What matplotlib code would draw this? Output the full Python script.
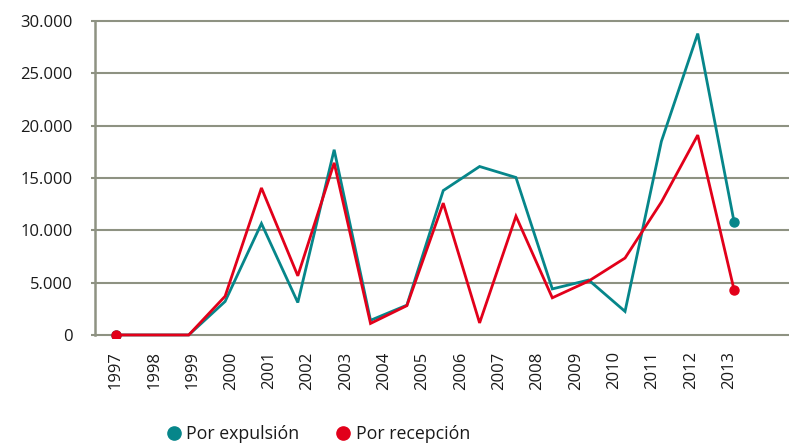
import numpy as np
import matplotlib
matplotlib.use("Agg")
import matplotlib.pyplot as plt
from matplotlib.ticker import FuncFormatter
from matplotlib.lines import Line2D

plt.rcParams['font.family'] = ['Open Sans', 'DejaVu Sans']

# Data (18 plotted vertices)
expulsion = [0, 0, 0, 3200, 10650, 3100, 17700, 1400, 2850, 13800, 16100,
             15050, 4400, 5250, 2250, 18500, 28800, 10800]
recepcion = [0, 0, 0, 3700, 14050, 5650, 16450, 1100, 2800, 12600, 1150,
             11350, 3550, 5150, 7350, 12700, 19100, 4300]
year_labels = [str(y) for y in range(1997, 2014)]
series_names = ["Por expulsión", "Por recepción"]

teal = "#06868a"
red = "#e2001a"
grid_c = "#8e9282"

fig = plt.figure(figsize=(7.89, 4.44), dpi=100)
W, H = 789, 444
left_px, right_px, top_px, bot_px = 95, 789, 17.9, 338.1
ax = fig.add_axes([left_px / W, 1 - bot_px / H, (right_px - left_px) / W, (bot_px - top_px) / H])

x = np.arange(len(expulsion))
ax.plot(x, expulsion, color=teal, lw=2.0, marker='o', ms=6.5, markevery=[0, len(x) - 1],
        solid_joinstyle='miter', zorder=3)
ax.plot(x, recepcion, color=red, lw=2.0, marker='o', ms=6.5, markevery=[0, len(x) - 1],
        solid_joinstyle='miter', zorder=4)

ax.set_xlim(-0.578, 18.51)
ax.set_ylim(-300, 30300)

ax.set_yticks(np.arange(0, 30001, 5000))
ax.yaxis.set_major_formatter(FuncFormatter(lambda v, p: f"{int(v):,}".replace(",", ".")))
ax.grid(axis='y', color=grid_c, lw=1.5)
ax.set_axisbelow(True)

tick_pos = np.arange(len(year_labels)) * (38.3 / 36.35)
ax.set_xticks(tick_pos)
ax.set_xticklabels(year_labels, rotation=90)

for s in ['top', 'right', 'bottom']:
    ax.spines[s].set_visible(False)
ax.spines['left'].set_color(grid_c)
ax.spines['left'].set_linewidth(1.8)
ax.spines['left'].set_bounds(0, 30000)

ax.tick_params(axis='y', length=3, width=1.5, color=grid_c, pad=13, labelsize=12, labelcolor='#1a1a1a')
ax.tick_params(axis='x', length=0, pad=9.5, labelsize=12, labelcolor='#1a1a1a')

handles = [Line2D([], [], ls='none', marker='o', ms=9.5, color=teal),
           Line2D([], [], ls='none', marker='o', ms=9.5, color=red)]
fig.legend(handles, series_names, loc='center', bbox_to_anchor=(318 / W, 1 - 434 / H),
           ncol=2, frameon=False, fontsize=12.8, handletextpad=0.25, columnspacing=2.0,
           handlelength=0.9, borderpad=0, labelcolor='#1a1a1a')

fig.savefig("out.png", dpi=100)
